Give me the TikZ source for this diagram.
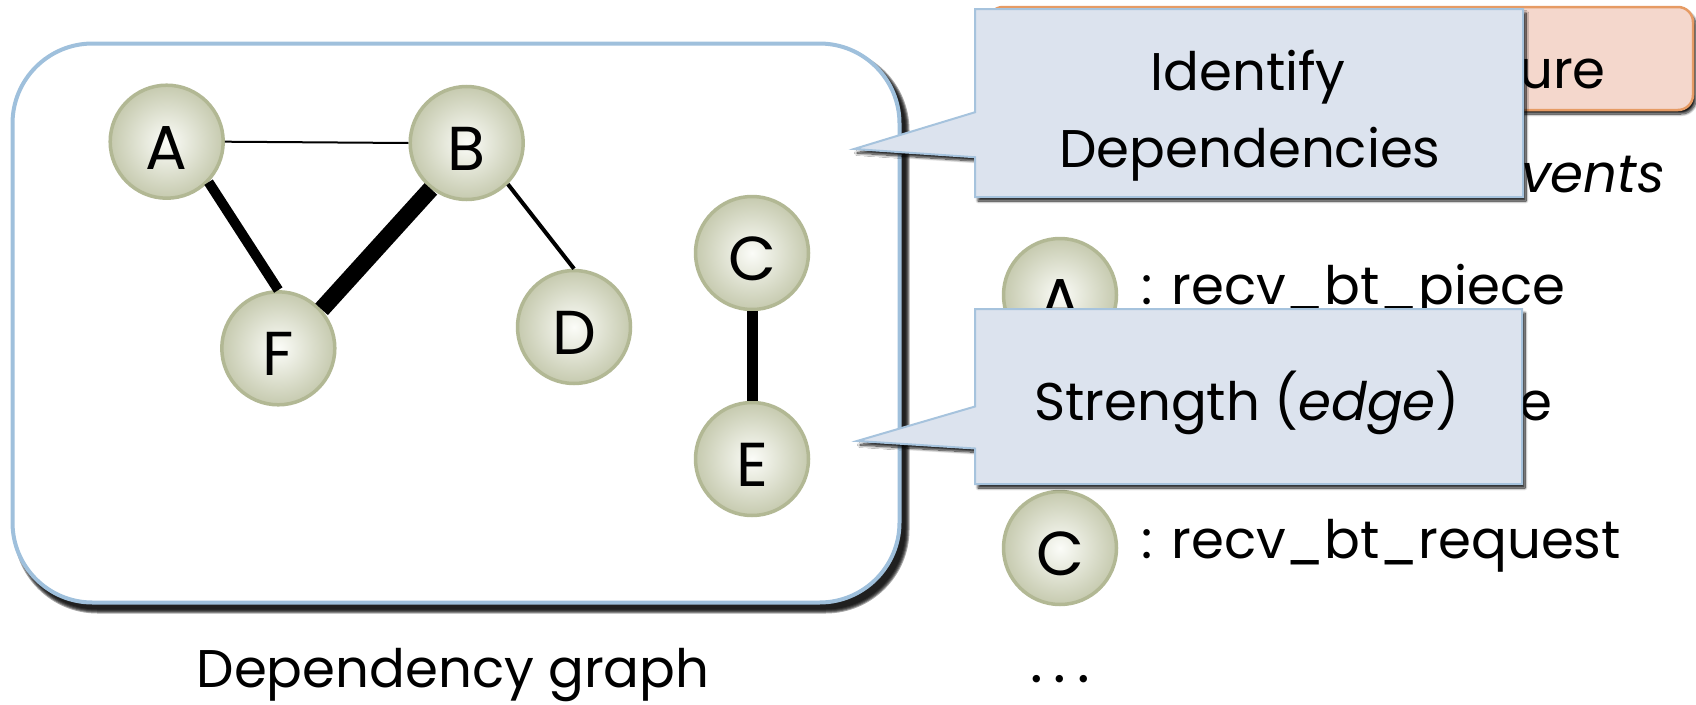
\documentclass[tikz,border=0pt]{standalone}
\usepackage{fontspec}
\setmainfont{Poppins}
\usetikzlibrary{shapes.callouts,shadows.blur}

\definecolor{boxline}{HTML}{9FC0DC}
\definecolor{nodeline}{HTML}{B2B894}
\definecolor{nodein}{HTML}{FBFCF8}
\definecolor{nodeout}{HTML}{C6CAAF}
\definecolor{callfill}{HTML}{DCE3EE}
\definecolor{callline}{HTML}{A6C3DD}
\definecolor{tagfill}{HTML}{F4D7CC}
\definecolor{tagline}{HTML}{E69B64}

\tikzset{
  txt/.style={font=\fontsize{53}{60}\selectfont, inner sep=0pt},
  evnode/.style={circle, draw=nodeline, line width=3.5pt,
    inner color=nodein, outer color=nodeout,
    minimum size=113pt, inner sep=0pt,
    font=\fontsize{62}{70}\selectfont, text height=55pt, text depth=0pt},
  wire/.style={line width=#1, line cap=butt},
  softshadow/.style={blur shadow={shadow xshift=3pt, shadow yshift=-4pt,
    shadow blur radius=2.5pt, shadow opacity=90, shadow blur steps=12}},
  bubble/.style={rectangle callout, fill=callfill, draw=callline, line width=2pt, softshadow},
}

\begin{document}
\begin{tikzpicture}[x=1pt, y=-1pt]
\useasboundingbox (0,0) rectangle (1696,704);

% ---------------- dependency graph ----------------
% dark soft shadow to the lower right of the frame
\foreach \r in {0,1,2,3,4}
  \fill[black, opacity=0.34, rounded corners=80pt+\r pt]
    (17.5-\r, 50.5-\r) rectangle (905.5+\r, 609.5+\r);

\node[draw=boxline, line width=4pt, rounded corners=80pt, fill=white,
      minimum width=887pt, minimum height=559pt]
      (graphbox) at (456,323) {};

\node[evnode] (A) at (166.7,141.7) {A};
\node[evnode] (B) at (466.7,143)   {B};
\node[evnode] (F) at (278.3,348.3) {F};
\node[evnode] (D) at (574,327)     {D};
\node[evnode] (C) at (752,253)     {C};
\node[evnode] (E) at (752,459)     {E};

\draw[wire=2pt]  (A.east) -- (B.west);
\draw[wire=10pt] (A.-44) -- (F.north);
\draw[wire=17pt] (B.-128.5) -- (F.42.6);
\draw[wire=4pt]  (B.-45) -- (D.north);
\draw[wire=11pt] (C.south) -- (E.north);

\node[txt, anchor=base] (graphlabel) at (453,687) {Dependency graph};

% ---------------- event list ----------------
\node[rounded corners=15pt, fill=tagfill, draw=tagline, line width=2.5pt,
      minimum width=705pt, minimum height=103pt, softshadow]
      (tag) at (1340.5,58.5) {};
\node[txt, anchor=base west] (tagtext) at (1519,88) {ure};
\node[txt, anchor=base west] (evtitle) at (1521,192) {\itshape vents};

\node[evnode] (LA) at (1060,295) {A};
\node[txt, anchor=base west] (LAtext) at (1141,304) {: recv\_bt\_piece};
\node[txt, anchor=base west] (LBtext) at (1519,420) {e};
\node[evnode] (LC) at (1060,548) {C};
\node[txt, anchor=base west] (LCtext) at (1141,558) {: recv\_bt\_request};
\node[txt, anchor=base west, font=\fontsize{60}{60}\selectfont] (more) at (1030,682)
      {.\kern11pt.\kern11pt.};

% ---------------- callouts ----------------
\node[bubble, minimum width=548pt, minimum height=188pt,
      callout absolute pointer={(854,149)}, callout pointer width=45pt]
      (identify) at (1249,103) {};
\node[txt, anchor=base] (identify1) at (1248,90)  {Identify};
\node[txt, anchor=base] (identify2) at (1250,167) {Dependencies};

\node[bubble, minimum width=547pt, minimum height=175pt,
      callout absolute pointer={(857,441)}, callout pointer width=42pt]
      (strength) at (1248.5,396.5) {};
\node[txt, anchor=base] (strength1) at (1247,420) {Strength (\textit{edge})};
\end{tikzpicture}
\end{document}
